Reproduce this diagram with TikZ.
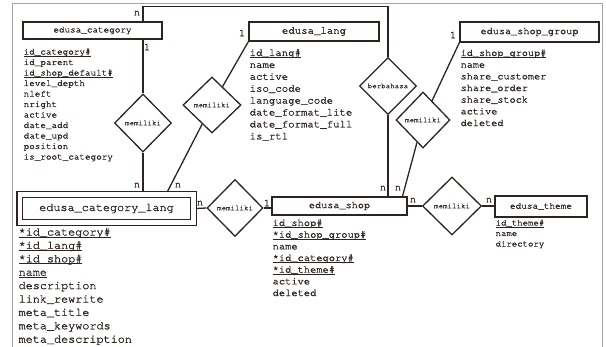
\documentclass[tikz,border=0pt]{standalone}
\usepackage{fontspec}
\setmonofont{TeX Gyre Cursor}[FakeBold=1.2]
\usetikzlibrary{shapes.geometric}
\definecolor{ink}{RGB}{45,36,32}
\definecolor{framegrey}{RGB}{165,165,165}
\newcommand\keyattr[1]{\underline{\smash{#1}}}

\begin{document}
\begin{tikzpicture}[x=1pt,y=-1pt,line width=1.3pt,ink,
  entity/.style={draw,rectangle,inner sep=0pt,font=\ttfamily\fontsize{#1}{#1}\selectfont},
  rel/.style={draw,diamond,inner sep=0pt,font=\ttfamily\fontsize{7.5}{7.5}\selectfont},
  attr/.style={anchor=base west,inner sep=0pt,font=\ttfamily\fontsize{#1}{#1}\selectfont},
  card/.style={inner sep=0pt,font=\ttfamily\fontsize{10.5}{10.5}\selectfont}]

	\useasboundingbox (0,0) rectangle (606,347);
	\draw[framegrey,line width=0.8pt] (12,347) -- (12,3) -- (602,3) -- (602,347);

	% entities
	\node[entity=9.3,minimum width=139pt,minimum height=17pt] (cat) at (92.5,30.5) {edusa\_category};
	\node[entity=10.7,minimum width=130pt,minimum height=19pt] (lang) at (314,31.5) {edusa\_lang};
	\node[entity=10.2,minimum width=139pt,minimum height=20pt] (sgroup) at (529.5,32) {edusa\_shop\_group};
	\node[entity=11.8,double,double distance=4.5pt,minimum width=173.5pt,minimum height=28pt,
	  outer sep=3pt] (catlang) at (106.5,208.5) {edusa\_category\_lang};
	\node[entity=10.2,minimum width=135pt,minimum height=18pt] (shop) at (339.5,206) {edusa\_shop};
	\node[entity=9.4,minimum width=92pt,minimum height=21pt] (theme) at (541,206.5) {edusa\_theme};

	% relations
	\node[rel,minimum width=57pt,minimum height=58pt] (rcat) at (143,123) {memiliki};
	\node[rel,minimum width=58pt,minimum height=56pt] (rlang) at (212,105) {memiliki};
	\node[rel,minimum width=57pt,minimum height=57pt] (rbhs) at (388,86) {berbahasa};
	\node[rel,minimum width=54pt,minimum height=56pt] (rsg) at (423,120) {memiliki};
	\node[rel,minimum width=56pt,minimum height=57pt] (rshop) at (235,208) {memiliki};
	\node[rel,minimum width=59pt,minimum height=58pt] (rtheme) at (452,206) {memiliki};

	\draw (cat.north -| rcat) -- ++(0,-15) -| (rbhs.north);
	\draw (rbhs.south) -- (rbhs.south |- shop.north);
	\draw (cat.south -| rcat) -- (rcat.north);
	\draw (rcat.south) -- (rcat.south |- catlang.north);
	\draw (lang.south west) -- (rlang); \draw (rlang) -- ([xshift=61pt]catlang.north);
	\draw (sgroup.south west) -- (rsg); \draw (rsg) -- ([xshift=63pt]shop.north);
	\draw (catlang.east) -- (rshop.west); \draw (rshop.east) -- (rshop.east -| shop.west);
	\draw (shop.east |- rtheme) -- (rtheme.west); \draw (rtheme.east) -- (rtheme.east -| theme.west);

	\foreach \x/\y/\t [count=\k] in {137/13/n,147/47/1,137/185/n,242/33/1,178/185/n,453/35/1,
	  383/188/n,398/188/n,200/203/n,267/203/1,413/200/n,489/200/n}
	  \node[card] (card\k) at (\x,\y) {\t};

	% attributes
	\foreach \a [count=\i] in {{\keyattr{id\_category\#}},id\_parent,{\keyattr{id\_shop\_default\#}},
	  level\_depth,nleft,nright,active,date\_add,date\_upd,position,is\_root\_category}
	  \node[attr=9.3] (cata\i) at (23,{54.5+10.5*(\i-1)}) {\a};
	\foreach \a [count=\i] in {{\keyattr{id\_lang\#}},name,active,iso\_code,language\_code,
	  date\_format\_lite,date\_format\_full,is\_rtl}
	  \node[attr=10.7] (langa\i) at (249,{56+11.9*(\i-1)}) {\a};
	\foreach \a [count=\i] in {{\keyattr{id\_shop\_group\#}},name,share\_customer,share\_order,
	  share\_stock,active,deleted}
	  \node[attr=10.2] (sgroupa\i) at (460,{56+11.67*(\i-1)}) {\a};
	\foreach \a [count=\i] in {{\keyattr{*id\_category\#}},{\keyattr{*id\_lang\#}},
	  {\keyattr{*id\_shop\#}},{\keyattr{name}},description,link\_rewrite,meta\_title,
	  meta\_keywords,meta\_description}
	  \node[attr=11.8] (catlanga\i) at (18,{235.5+13.4*(\i-1)}) {\a};
	\foreach \a [count=\i] in {{\keyattr{id\_shop\#}},{\keyattr{*id\_shop\_group\#}},name,
	  {\keyattr{*id\_category\#}},{\keyattr{*id\_theme\#}},active,deleted}
	  \node[attr=10.4] (shopa\i) at (272,{226+11.67*(\i-1)}) {\a};
	\foreach \a [count=\i] in {{\keyattr{id\_theme\#}},name,directory}
	  \node[attr=9] (themea\i) at (495,{225.5+10.5*(\i-1)}) {\a};
\end{tikzpicture}
\end{document}
